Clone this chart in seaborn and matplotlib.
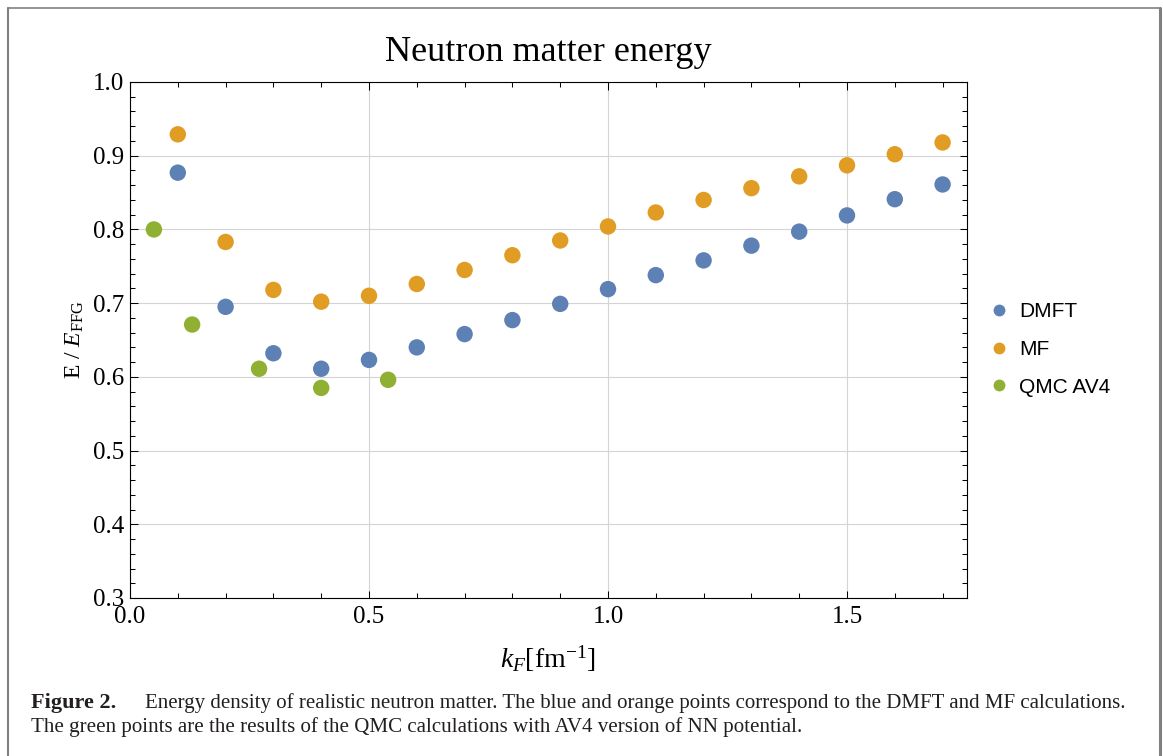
import numpy as np
import pandas as pd
import matplotlib
matplotlib.use("Agg")
import matplotlib.pyplot as plt
from matplotlib.lines import Line2D
from matplotlib.ticker import MultipleLocator, FormatStrFormatter
import seaborn as sns

# ---------------- data ----------------
kf_dmft = [0.1, 0.2, 0.3, 0.4, 0.5, 0.6, 0.7, 0.8, 0.9, 1.0, 1.1, 1.2, 1.3, 1.4, 1.5, 1.6, 1.7]
e_dmft = [0.877, 0.695, 0.632, 0.611, 0.623, 0.640, 0.658, 0.677, 0.699, 0.719,
          0.738, 0.758, 0.778, 0.797, 0.819, 0.841, 0.861]
kf_mf = [0.1, 0.2, 0.3, 0.4, 0.5, 0.6, 0.7, 0.8, 0.9, 1.0, 1.1, 1.2, 1.3, 1.4, 1.5, 1.6, 1.7]
e_mf = [0.929, 0.783, 0.718, 0.702, 0.710, 0.726, 0.745, 0.765, 0.785, 0.804,
        0.823, 0.840, 0.856, 0.872, 0.887, 0.902, 0.918]
kf_qmc = [0.05, 0.13, 0.27, 0.40, 0.54]
e_qmc = [0.800, 0.671, 0.611, 0.585, 0.596]

series_names = ["DMFT", "MF", "QMC AV4"]
series_colors = ["#5E81B5", "#E19C24", "#8FB032"]

title_text = "Neutron matter energy"
xlabel_text = r"$k_F[\mathrm{fm}^{-1}]$"
ylabel_text = r"E / $E_{\mathrm{FFG}}$"
caption_bold = "Figure 2."
caption_line1 = ("Energy density of realistic neutron matter. The blue and orange points "
                 "correspond to the DMFT and MF calculations.")
caption_line2 = ("The green points are the results of the QMC calculations with AV4 version "
                 "of NN potential.")

df = pd.concat([
    pd.DataFrame({"kF": kf_dmft, "E": e_dmft, "series": series_names[0]}),
    pd.DataFrame({"kF": kf_mf, "E": e_mf, "series": series_names[1]}),
    pd.DataFrame({"kF": kf_qmc, "E": e_qmc, "series": series_names[2]}),
], ignore_index=True)

# ---------------- style ----------------
sns.set_style("ticks")
plt.rcParams["font.family"] = ["Liberation Serif", "DejaVu Serif"]
plt.rcParams["mathtext.fontset"] = "custom"
plt.rcParams["mathtext.rm"] = "Liberation Serif"
plt.rcParams["mathtext.it"] = "Liberation Serif:italic"
plt.rcParams["mathtext.bf"] = "Liberation Serif:bold"
plt.rcParams["text.color"] = "black"

W, H = 1163, 756
fig = plt.figure(figsize=(W / 100, H / 100), dpi=100)
fig.patch.set_facecolor("white")

ax_left, ax_right, ax_top, ax_bot = 130, 966.5, 82, 598
ax = fig.add_axes([ax_left / W, 1 - ax_bot / H, (ax_right - ax_left) / W, (ax_bot - ax_top) / H])

sns.scatterplot(data=df, x="kF", y="E", hue="series", hue_order=series_names,
                palette=dict(zip(series_names, series_colors)),
                s=140, linewidth=0, alpha=1.0, ax=ax, zorder=3)

ax.set_xlim(0, 1.75)
ax.set_ylim(0.3, 1.0)
ax.xaxis.set_major_locator(MultipleLocator(0.5))
ax.xaxis.set_minor_locator(MultipleLocator(0.1))
ax.yaxis.set_major_locator(MultipleLocator(0.1))
ax.yaxis.set_minor_locator(MultipleLocator(0.02))
ax.xaxis.set_major_formatter(FormatStrFormatter("%.1f"))
ax.yaxis.set_major_formatter(FormatStrFormatter("%.1f"))

ax.grid(True, which="major", color="#d4d4d4", linewidth=0.8, zorder=0)
ax.set_axisbelow(True)
for sp in ax.spines.values():
    sp.set_visible(True)
    sp.set_color("black")
    sp.set_linewidth(0.8)

ax.tick_params(which="both", direction="in", top=True, right=True,
               color="black", width=0.75, labelsize=18, labelcolor="black")
ax.tick_params(which="major", length=5.4)
ax.tick_params(which="minor", length=3.6)
ax.tick_params(axis="x", which="major", pad=6)
ax.tick_params(axis="y", which="major", pad=4)

ax.set_title(title_text, fontsize=26, pad=15, color="black")
ax.set_xlabel(xlabel_text, fontsize=20, labelpad=11, color="black")
ax.set_ylabel(ylabel_text, fontsize=17, labelpad=5, color="black")

# legend
handles, labels = ax.get_legend_handles_labels()
leg = ax.legend(handles=handles, labels=labels, loc="center left",
                bbox_to_anchor=(978.5 / W, 1 - 349.5 / H), bbox_transform=fig.transFigure,
                frameon=False, borderpad=0, handlelength=1.0, handletextpad=0.45,
                labelspacing=0.9, markerscale=0.72,
                prop={"family": ["Liberation Sans", "DejaVu Sans"], "size": 15})
for t in leg.get_texts():
    t.set_color("black")

# caption
cap_col = "#231f20"
fig.text(31 / W, 1 - 703 / H, caption_bold, fontsize=16, fontweight="bold",
         va="center", ha="left", color=cap_col)
fig.text(145 / W, 1 - 703 / H, caption_line1, fontsize=15,
         va="center", ha="left", color=cap_col)
fig.text(31 / W, 1 - 727 / H, caption_line2, fontsize=15.1,
         va="center", ha="left", color=cap_col)

# outer frame
def px_line(x0, y0, x1, y1, lw):
    fig.add_artist(Line2D([x0 / W, x1 / W], [1 - y0 / H, 1 - y1 / H],
                          transform=fig.transFigure, color="#808080", linewidth=lw))

px_line(7.5, 7.5, 1159.5, 7.5, 1.2)
px_line(7.5, 7.5, 7.5, 800, 1.5)
px_line(1159.5, 7.5, 1159.5, 800, 2.2)

fig.savefig("out.png", dpi=100)
